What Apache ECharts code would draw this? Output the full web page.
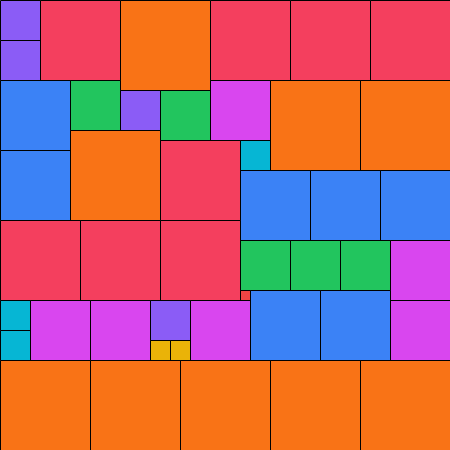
<!DOCTYPE html>
<html>
<head>
<meta charset="utf-8">
<script src="https://cdn.jsdelivr.net/npm/echarts@6/dist/echarts.min.js"></script>
<style>html,body{margin:0;padding:0;background:#fff}#c{width:450px;height:450px}</style>
</head>
<body>
<div id="c"></div>
<script>
// Partridge packing: squares of side 1..9 (n copies of side n) in a 45x45 square
var xs    = [0,0,4,12,21,29,37,0,0,7,12,16,21,24,7,16,27,36,24,31,38,0,8,16,24,29,34,39,39,24,0,0,3,9,15,15,17,19,25,32,0,9,18,27,36];
var ys    = [0,4,0,0,0,0,0,8,15,8,9,9,8,14,13,14,8,8,17,17,17,22,22,22,24,24,24,24,30,29,30,33,30,30,30,34,34,30,29,29,36,36,36,36,36];
var sizes = [4,4,8,9,8,8,8,7,7,5,4,5,6,3,9,8,9,9,7,7,7,8,8,8,5,5,5,6,6,1,3,3,6,6,4,2,2,6,7,7,9,9,9,9,9];
var palette = {1:'#ef4444',2:'#eab308',3:'#06b6d4',4:'#8b5cf6',5:'#22c55e',6:'#d946ef',7:'#3b82f6',8:'#f43f5e',9:'#f97316'};
var data = xs.map(function(x,i){return [x, ys[i], sizes[i]];});
var chart = echarts.init(document.getElementById('c'));
chart.setOption({
  animation:false,
  grid:{left:0,right:0,top:0,bottom:0},
  xAxis:{type:'value',min:0,max:45,show:false},
  yAxis:{type:'value',min:0,max:45,inverse:true,show:false},
  series:[{
    type:'custom',
    data:data,
    renderItem:function(params, api){
      var x=api.value(0), y=api.value(1), s=api.value(2);
      var p0=api.coord([x,y]);
      var p1=api.coord([x+s,y+s]);
      return {
        type:'rect',
        shape:{x:Math.round(p0[0])+0.5,y:Math.round(p0[1])+0.5,width:Math.round(p1[0]-p0[0]),height:Math.round(p1[1]-p0[1])},
        style:{fill:palette[s],stroke:'#000',lineWidth:1}
      };
    }
  }]
});
</script>
</body>
</html>
